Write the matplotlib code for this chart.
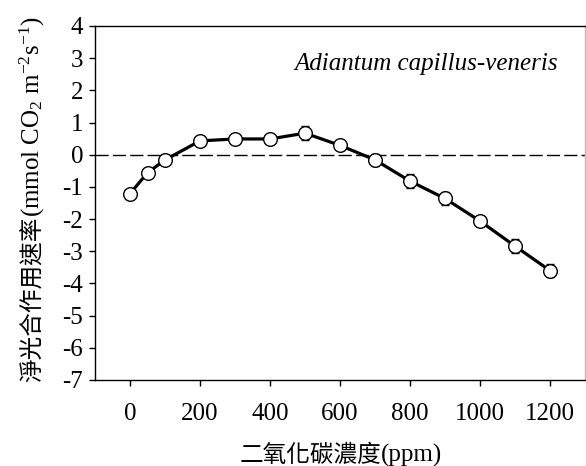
import matplotlib
matplotlib.use("Agg")
import matplotlib.pyplot as plt
import numpy as np

# ---- data ----
co2 = [0, 50, 100, 200, 300, 400, 500, 600, 700, 800, 900, 1000, 1100, 1200]
rate = [-1.21, -0.56, -0.16, 0.43, 0.49, 0.49, 0.67, 0.29, -0.16, -0.82, -1.36, -2.06, -2.84, -3.60]
err = [0.08, 0.08, 0.10, 0.10, 0.10, 0.08, 0.21, 0.12, 0.19, 0.22, 0.21, 0.16, 0.22, 0.20]
xticks = [0, 200, 400, 600, 800, 1000, 1200]
yticks = [-7, -6, -5, -4, -3, -2, -1, 0, 1, 2, 3, 4]
species = "Adiantum capillus-veneris"
ylabel_cjk = "淨光合作用速率"
ylabel_unit = r"(mmol CO$_2$ m$^{-2}$s$^{-1}$)"
xlabel_cjk = "二氧化碳濃度"
xlabel_unit = "(ppm)"

plt.rcParams['axes.unicode_minus'] = False
plt.rcParams['mathtext.fontset'] = 'custom'
plt.rcParams['mathtext.rm'] = 'Liberation Serif'
plt.rcParams['mathtext.it'] = 'Liberation Serif:italic'
plt.rcParams['font.family'] = ['Liberation Serif', 'Noto Sans CJK TC']

W, H = 586, 466
fig = plt.figure(figsize=(W / 100, H / 100), dpi=100)
ax = fig.add_axes([95 / W, 1 - 380 / H, 490 / W, 354 / H])

ax.axhline(0, color='black', lw=1.0, dashes=(9.5, 3), zorder=1)
ax.errorbar(co2, rate, yerr=err, fmt='-o', color='black', lw=2.3,
            ms=9.8, mfc='white', mec='black', mew=1.0,
            ecolor='black', elinewidth=0.9, capsize=3.2, capthick=0.9, zorder=3)

ax.set_xlim(-100, 1300)
ax.set_ylim(-7, 4)
ax.set_xticks(xticks)
ax.set_yticks(yticks)
ax.set_xticklabels([str(v) for v in xticks], fontsize=18, family='Liberation Serif')
ax.set_yticklabels([str(v) for v in yticks], fontsize=18, family='Liberation Serif')
ax.tick_params(direction='out', length=4.5, width=1.0, color='black')
ax.tick_params(axis='x', pad=12)
ax.tick_params(axis='y', pad=4)
for s in ['left', 'top', 'bottom']:
    ax.spines[s].set_linewidth(1.0)
    ax.spines[s].set_color('black')
ax.spines['right'].set_color('#bbbbbb')
ax.spines['right'].set_linewidth(1.0)

ax.text(0.945, 0.893, species, transform=ax.transAxes, ha='right', va='center',
        fontsize=18, style='italic', family='Liberation Serif')

# ---- x label (two parts, baseline aligned) ----
fig.canvas.draw()
r = fig.canvas.get_renderer()
xl1 = fig.text(0, 0, xlabel_cjk, fontsize=17, family='Noto Sans CJK TC',
               ha='left', va='baseline')
xl2 = fig.text(0, 0, xlabel_unit, fontsize=18, family='Liberation Serif',
               ha='left', va='baseline')
w1 = xl1.get_window_extent(r).width
w2 = xl2.get_window_extent(r).width
cx = 341
base_y = 462
x0 = cx - (w1 + w2) / 2
xl1.set_position((x0 / W, 1 - base_y / H))
xl2.set_position(((x0 + w1) / W, 1 - base_y / H))

# ---- y label (two parts, rotated, baseline aligned) ----
yl1 = fig.text(0, 0, ylabel_cjk, fontsize=17, family='Noto Sans CJK TC',
               ha='left', va='baseline', rotation=90, rotation_mode='anchor')
yl2 = fig.text(0, 0, ylabel_unit, fontsize=18, family='Liberation Serif',
               ha='left', va='baseline', rotation=90, rotation_mode='anchor')
h1 = yl1.get_window_extent(r).height
h2 = yl2.get_window_extent(r).height
cy = 199
base_x = 40
y0 = cy + (h1 + h2) / 2
yl1.set_position((base_x / W, 1 - y0 / H))
yl2.set_position((base_x / W, 1 - (y0 - h1) / H))

fig.savefig("out.png", dpi=100, facecolor='white')
